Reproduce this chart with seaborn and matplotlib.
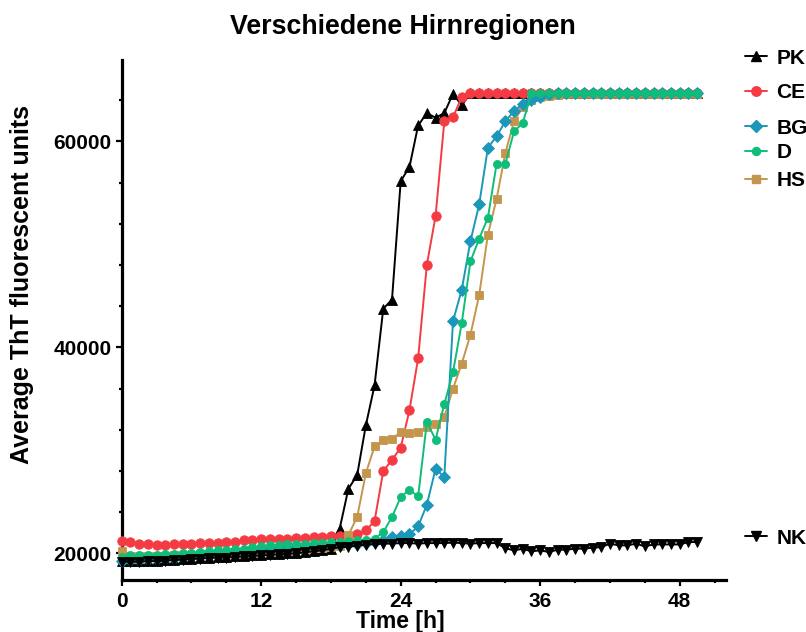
import numpy as np
import pandas as pd
import matplotlib
matplotlib.use("Agg")
import matplotlib.pyplot as plt
from matplotlib.lines import Line2D
import seaborn as sns

# ---------------- data ----------------
time_h = [0.0, 0.75, 1.5, 2.25, 3.0, 3.75, 4.5, 5.25, 6.0, 6.75, 7.5, 8.25, 9.0, 9.75,
          10.5, 11.25, 12.0, 12.75, 13.5, 14.25, 15.0, 15.75, 16.5, 17.25, 18.0, 18.75,
          19.5, 20.25, 21.0, 21.75, 22.5, 23.25, 24.0, 24.75, 25.5, 26.25, 27.0, 27.75,
          28.5, 29.25, 30.0, 30.75, 31.5, 32.25, 33.0, 33.75, 34.5, 35.25, 36.0, 36.75,
          37.5, 38.25, 39.0, 39.75, 40.5, 41.25, 42.0, 42.75, 43.5, 44.25, 45.0, 45.75,
          46.5, 47.25, 48.0, 48.75, 49.5]

PK = [19250, 19250, 19250, 19300, 19300, 19350, 19400, 19450, 19500, 19550, 19600, 19650,
      19650, 19700, 19750, 19800, 19850, 19900, 19950, 20000, 20050, 20150, 20250, 20350,
      20400, 22400, 26280, 27570, 32430, 36310, 43760, 44630, 56150, 57500, 61550, 62750,
      62300, 62750, 64630, 63500, 64700, 64700, 64700, 64700, 64700, 64700, 64700, 64700,
      64700, 64700, 64700, 64700, 64700, 64700, 64700, 64700, 64700, 64700, 64700, 64700,
      64700, 64700, 64700, 64700, 64700, 64700, 64700]

CE = [21190, 21130, 20940, 20940, 20840, 20780, 20940, 20940, 20940, 21000, 21000, 21000,
      21100, 21130, 21260, 21260, 21360, 21360, 21390, 21420, 21520, 21520, 21590, 21590,
      21650, 21700, 21720, 21850, 22230, 23140, 27990, 29090, 30260, 33880, 38960, 48030,
      52750, 61940, 62360, 64300, 64700, 64700, 64700, 64700, 64700, 64700, 64700, 64700,
      64700, 64700, 64700, 64700, 64700, 64700, 64700, 64700, 64700, 64700, 64700, 64700,
      64700, 64700, 64700, 64700, 64700, 64700, 64700]

BG = [19300, 19350, 19400, 19450, 19500, 19550, 19600, 19650, 19700, 19800, 19850, 19950,
      20000, 20100, 20150, 20250, 20350, 20450, 20500, 20550, 20600, 20650, 20700, 20750,
      20800, 20850, 20900, 20950, 21000, 21100, 21330, 21590, 21650, 21840, 22620, 24730,
      28220, 27410, 42560, 45600, 50320, 53880, 59390, 60490, 61970, 62940, 63660, 64050,
      64300, 64600, 64700, 64700, 64700, 64700, 64700, 64700, 64700, 64700, 64700, 64700,
      64700, 64700, 64700, 64700, 64700, 64700, 64700]

D = [19640, 19810, 19810, 19870, 19870, 19970, 19970, 20030, 20030, 20130, 20230, 20290,
     20360, 20460, 20460, 20610, 20710, 20780, 20840, 20870, 20940, 20940, 21000, 21000,
     21070, 21100, 21190, 21260, 21330, 21420, 22070, 23530, 25470, 26180, 25530, 32750,
     31040, 34500, 37600, 42360, 48350, 50550, 52590, 57830, 57830, 60970, 61780, 64700,
     64700, 64700, 64700, 64700, 64700, 64700, 64700, 64700, 64700, 64700, 64700, 64700,
     64700, 64700, 64700, 64700, 64700, 64700, 64700]

HS = [20220, 19750, 19700, 19700, 19750, 19750, 19800, 19800, 19850, 19900, 19950, 20000,
      20050, 20100, 20100, 20150, 20200, 20250, 20300, 20350, 20400, 20450, 20500, 20550,
      20600, 20700, 21800, 23500, 27770, 30400, 30970, 31130, 31780, 31680, 31780, 32260,
      32590, 33230, 36000, 38420, 41230, 45080, 50940, 54430, 58860, 61970, 63330, 64050,
      64300, 64400, 64500, 64600, 64600, 64600, 64600, 64600, 64600, 64600, 64600, 64600,
      64600, 64600, 64600, 64600, 64600, 64600, 64600]

NK = [19200, 19200, 19200, 19250, 19250, 19300, 19350, 19400, 19450, 19500, 19550, 19600,
      19600, 19650, 19700, 19750, 19800, 19850, 19900, 19950, 20000, 20100, 20200, 20300,
      20450, 20600, 20650, 20750, 20850, 20900, 20950, 20950, 21000, 21000, 20950, 21000,
      21000, 21000, 21050, 21000, 20950, 21000, 21000, 21000, 20500, 20300, 20450, 20200,
      20300, 20130, 20360, 20360, 20460, 20460, 20550, 20610, 20940, 20780, 20780, 20940,
      20680, 20870, 20870, 20870, 20870, 21100, 21100]

series_names = ["PK", "CE", "HS", "BG", "D", "NK"]
series_values = {"PK": PK, "CE": CE, "BG": BG, "D": D, "HS": HS, "NK": NK}
colors = {"PK": "#000000", "CE": "#F43B43", "BG": "#1A97B9", "D": "#0FBD7A",
          "HS": "#C4954C", "NK": "#000000"}
markers = {"PK": "^", "CE": "o", "BG": "D", "D": "o", "HS": "s", "NK": "v"}
msizes = {"PK": 6.8, "CE": 6.8, "BG": 5.8, "D": 5.8, "HS": 6.3, "NK": 6.8}

title = "Verschiedene Hirnregionen"
xlabel = "Time [h]"
ylabel = "Average ThT fluorescent units"
xticks = [0, 12, 24, 36, 48]
yticks = [20000, 40000, 60000]

# ---------------- style ----------------
sns.set_style("ticks")
plt.rcParams["font.family"] = ["Liberation Sans", "DejaVu Sans"]
plt.rcParams["font.weight"] = "bold"
plt.rcParams["axes.labelweight"] = "bold"
plt.rcParams["text.color"] = "black"
plt.rcParams["axes.labelcolor"] = "black"
plt.rcParams["xtick.color"] = "black"
plt.rcParams["ytick.color"] = "black"

fig = plt.figure(figsize=(8.06, 6.32), dpi=100)
ax = fig.add_axes([0.151, 0.082, 0.750, 0.823])

for name in series_names:
    df = pd.DataFrame({"t": time_h, "v": series_values[name]})
    sns.lineplot(data=df, x="t", y="v", ax=ax, color=colors[name],
                 marker=markers[name], markersize=msizes[name],
                 markeredgecolor=colors[name], markeredgewidth=0.6,
                 linewidth=1.4, legend=False, clip_on=False, zorder=3)

ax.set_xlim(0, 52)
ax.set_ylim(17400, 67900)
ax.set_xticks(xticks)
ax.set_xticks(np.arange(0, 52.1, 3), minor=True)
ax.set_yticks(yticks)
ax.set_yticks(np.arange(20000, 67900, 4000), minor=True)
ax.set_xticklabels([str(v) for v in xticks])
ax.set_yticklabels([str(v) for v in yticks])

for s in ["top", "right"]:
    ax.spines[s].set_visible(False)
for s in ["left", "bottom"]:
    ax.spines[s].set_linewidth(2.3)
    ax.spines[s].set_color("black")

ax.tick_params(axis="both", which="major", length=4.5, width=1.6, labelsize=15,
               direction="out", colors="black")
ax.tick_params(axis="both", which="minor", length=2.5, width=1.6, direction="out")
ax.tick_params(axis="y", which="major", pad=3)
ax.tick_params(axis="x", which="major", pad=4)
for lab in ax.get_xticklabels() + ax.get_yticklabels():
    lab.set_fontweight("bold")

ax.set_xlabel(xlabel, fontsize=16.5, fontweight="bold", color="black")
ax.xaxis.set_label_coords(24 / 52, -0.058)
ax.xaxis.label.set_va("top")
ax.set_ylabel(ylabel, fontsize=18, fontweight="bold", color="black")
ax.yaxis.label.set_va("center")
ax.yaxis.set_label_coords(-0.165, 0.569)
fig.text(0.5, 0.957, title, ha="center", va="center", fontsize=19.3,
         fontweight="bold", color="black")

# ---------------- legend ----------------
leg_pos = {"PK": 58, "CE": 93, "BG": 128, "D": 153, "HS": 181, "NK": 538}
for name in ["PK", "CE", "BG", "D", "HS", "NK"]:
    h = Line2D([0], [0], color=colors[name], marker=markers[name],
               markersize=msizes[name], linewidth=1.4,
               markeredgecolor=colors[name])
    lg = fig.legend(handles=[h], labels=[name], loc="center left",
                    bbox_to_anchor=(745 / 806, 1 - leg_pos[name] / 632),
                    frameon=False, handlelength=1.05, handletextpad=0.45,
                    borderpad=0, borderaxespad=0,
                    prop={"family": ["Liberation Sans", "DejaVu Sans"],
                          "weight": "bold", "size": 15})

fig.savefig("out.png", dpi=100)
